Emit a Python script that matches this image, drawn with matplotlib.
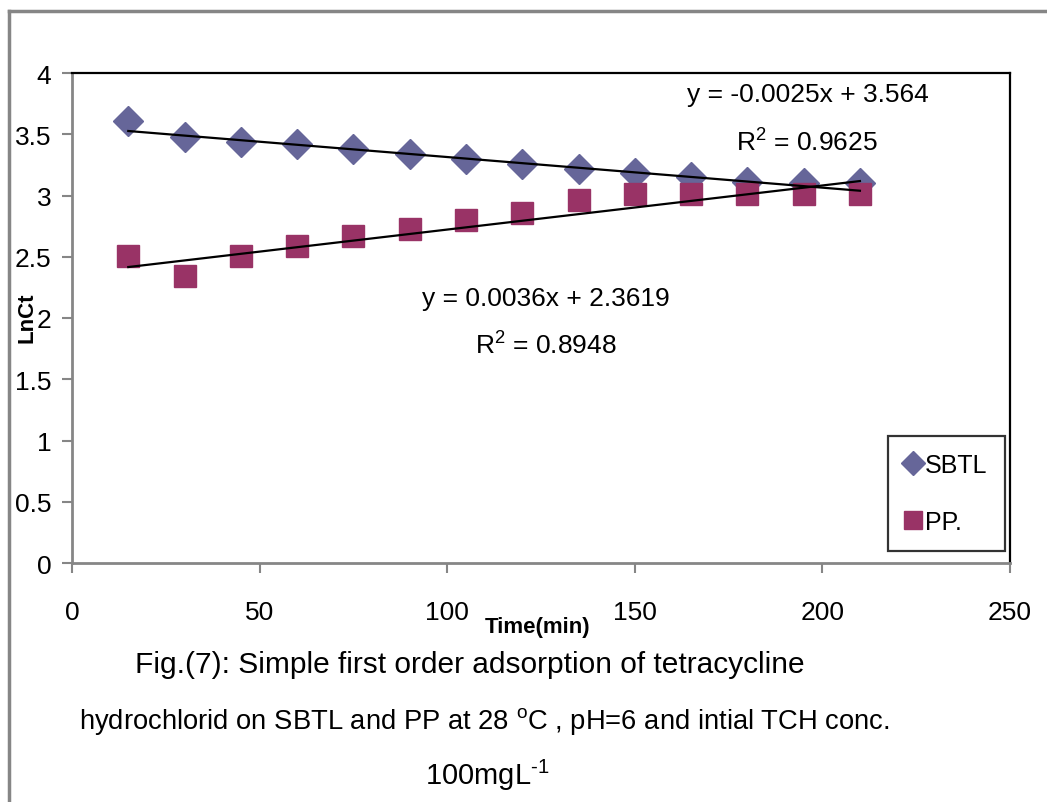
#!/usr/bin/env python3
"""Simple first order adsorption plot: Ln Ct vs time for SBTL and PP."""
import matplotlib
matplotlib.use("Agg")
import matplotlib.pyplot as plt
from matplotlib import font_manager
import numpy as np

# --------------------------------------------------------------------------- #
# Data
# --------------------------------------------------------------------------- #
time_min = [15, 30, 45, 60, 75, 90, 105, 120, 135, 150, 165, 180, 195, 210]
sbtl_lnct = [3.61, 3.48, 3.44, 3.42, 3.38, 3.34, 3.30, 3.26, 3.22, 3.18, 3.15, 3.11, 3.10, 3.10]
pp_lnct = [2.51, 2.34, 2.51, 2.59, 2.67, 2.73, 2.80, 2.86, 2.96, 3.01, 3.01, 3.01, 3.01, 3.01]

sbtl_fit = (-0.0025, 3.564, 0.9625)
pp_fit = (0.0036, 2.3619, 0.8948)

x_ticks = [0, 50, 100, 150, 200, 250]
y_ticks = [0, 0.5, 1, 1.5, 2, 2.5, 3, 3.5, 4]
y_tick_labels = ["0", "0.5", "1", "1.5", "2", "2.5", "3", "3.5", "4"]

caption = [
    "Fig.(7): Simple first order adsorption of tetracycline",
    "hydrochlorid on SBTL and PP at 28 $^{\\mathrm{o}}$C , pH=6 and intial TCH conc.",
    "100mgL$^{\\text{-1}}$",
]

# font: narrow sans if we have it
names = {f.name for f in font_manager.fontManager.ttflist}
FONT = "Liberation Sans Narrow" if "Liberation Sans Narrow" in names else "Liberation Sans"
plt.rcParams["font.family"] = [FONT, "DejaVu Sans"]
plt.rcParams["mathtext.fontset"] = "custom"
plt.rcParams["mathtext.rm"] = FONT
plt.rcParams["mathtext.it"] = FONT
plt.rcParams["mathtext.bf"] = FONT + ":bold"

W, H = 1047, 803
fig = plt.figure(figsize=(W / 100, H / 100), dpi=100)
ax = fig.add_axes([72 / W, 1 - 564 / H, (1010 - 72) / W, (564 - 74) / H])

SBTL_C = "#666699"
PP_C = "#993366"
GRAY = "#868686"

ax.plot(time_min, sbtl_lnct, ls="none", marker="D", ms=15, color=SBTL_C,
        mec=SBTL_C, label="SBTL", zorder=3)
ax.plot(time_min, pp_lnct, ls="none", marker="s", ms=16, color=PP_C,
        mec=PP_C, label="PP.", zorder=3)

xs = np.array([time_min[0], time_min[-1]], dtype=float)
for m, b, _ in (sbtl_fit, pp_fit):
    ax.plot(xs, m * xs + b, color="black", lw=1.6, zorder=4)

ax.set_xlim(0, 250)
ax.set_ylim(0, 4)
ax.set_xticks(x_ticks)
ax.set_yticks(y_ticks)
ax.set_yticklabels(y_tick_labels)
ax.tick_params(axis="both", direction="out", length=7, width=1.5, color=GRAY,
               labelsize=19)
ax.tick_params(axis="x", pad=20)
ax.tick_params(axis="y", pad=8)
ax.tick_params(top=False, right=False)

for side in ("left", "bottom"):
    ax.spines[side].set_color(GRAY)
    ax.spines[side].set_linewidth(2)
for side in ("top", "right"):
    ax.spines[side].set_color("black")
    ax.spines[side].set_linewidth(1.6)

# trend line equations
ax.text(196, 3.83, "y = -0.0025x + 3.564", ha="center", va="center", fontsize=19)
ax.text(196, 3.44, "R$^{2}$ = 0.9625", ha="center", va="center", fontsize=19)
ax.text(126.3, 2.16, "y = 0.0036x + 2.3619", ha="center", va="center", fontsize=19)
ax.text(126.3, 1.78, "R$^{2}$ = 0.8948", ha="center", va="center", fontsize=19)

leg = ax.legend(loc="lower right", bbox_to_anchor=(0.995, 0.024), borderaxespad=0,
                frameon=True, fancybox=False, fontsize=18, labelspacing=1.3,
                handlelength=0.6, handletextpad=0.2, borderpad=0.7,
                markerscale=0.8)
leg.get_frame().set_edgecolor("black")
leg.get_frame().set_linewidth(1.6)

# axis titles
fig.text(538 / W, 1 - 628 / H, "Time(min)", ha="center", va="center",
         fontsize=16, fontweight="bold")
fig.text(27 / W, 1 - 318 / H, "LnCt", ha="center", va="center", rotation=90,
         fontsize=16, fontweight="bold")

# caption
fig.text(470 / W, 1 - 665 / H, caption[0], ha="center", va="center", fontsize=21.5)
fig.text(484 / W, 1 - 722 / H, caption[1], ha="center", va="center", fontsize=19.7)
fig.text(487 / W, 1 - 775 / H, caption[2], ha="center", va="center", fontsize=21)

# outer chart frame (top and left edge only visible)
fig.add_artist(plt.Line2D([9 / W, 1], [1 - 12 / H, 1 - 12 / H],
                          transform=fig.transFigure, color=GRAY, lw=2.5))
fig.add_artist(plt.Line2D([9 / W, 9 / W], [0, 1 - 12 / H],
                          transform=fig.transFigure, color=GRAY, lw=2.5))

fig.savefig("out.png", dpi=100)
